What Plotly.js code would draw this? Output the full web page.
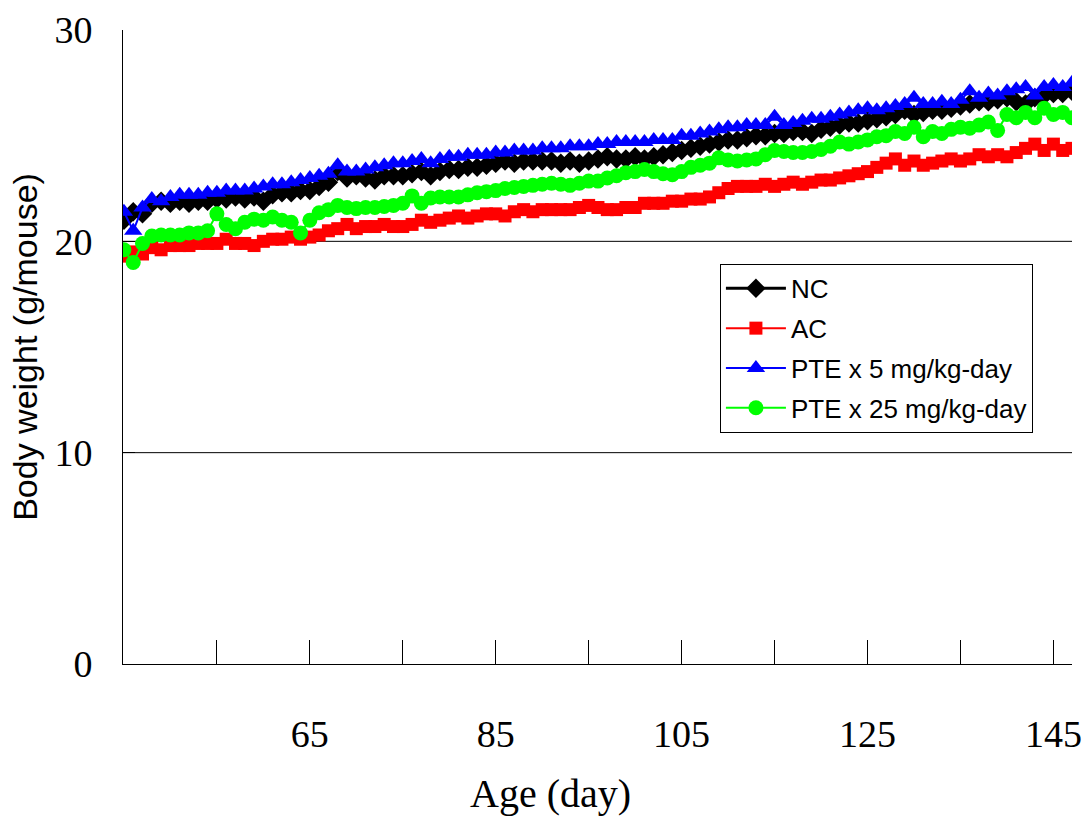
<!DOCTYPE html>
<html>
<head>
<meta charset="utf-8">
<script src="https://cdn.plot.ly/plotly-3.0.1.min.js"></script>
<style>html,body{margin:0;padding:0;background:#fff;}#chart{width:1089px;height:821px;}</style>
</head>
<body>
<div id="chart"></div>
<script>
var days = [45,46,47,48,49,50,51,52,53,54,55,56,57,58,59,60,61,62,63,64,65,66,67,68,69,70,71,72,73,74,75,76,77,78,79,80,81,82,83,84,85,86,87,88,89,90,91,92,93,94,95,96,97,98,99,100,101,102,103,104,105,106,107,108,109,110,111,112,113,114,115,116,117,118,119,120,121,122,123,124,125,126,127,128,129,130,131,132,133,134,135,136,137,138,139,140,141,142,143,144,145,146,147];

var nc = [21.0,21.4,21.3,21.8,21.9,21.8,21.9,21.8,21.9,21.9,
  22.0,22.0,22.1,22.0,22.1,21.9,22.2,22.3,22.3,22.4,
  22.4,22.6,22.8,23.3,23.0,23.1,23.0,22.9,23.1,23.1,
  23.1,23.2,23.3,23.1,23.3,23.4,23.4,23.5,23.5,23.6,
  23.7,23.8,23.7,23.8,23.8,23.8,23.8,23.7,23.8,23.7,
  23.8,23.9,24.0,23.9,23.9,24.0,23.9,24.0,24.1,24.2,
  24.3,24.4,24.5,24.6,24.7,24.8,24.8,24.9,25.0,25.0,
  25.1,25.1,25.2,25.2,25.1,25.3,25.4,25.5,25.6,25.6,
  25.7,25.8,25.9,26.0,26.2,26.0,26.1,26.2,26.2,26.3,
  26.4,26.5,26.6,26.6,26.7,26.8,26.6,26.5,26.8,26.9,
  27.0,27.0,27.1];

var ac = [19.3,19.5,19.4,19.7,19.6,19.8,19.8,19.8,19.9,19.9,
  19.9,20.1,19.9,19.9,19.8,20.0,20.1,20.1,20.2,20.1,
  20.2,20.3,20.5,20.6,20.8,20.6,20.7,20.7,20.8,20.7,
  20.7,20.8,21.0,20.9,21.0,21.1,21.2,21.1,21.2,21.3,
  21.3,21.2,21.4,21.5,21.4,21.5,21.5,21.5,21.5,21.6,
  21.7,21.6,21.5,21.5,21.6,21.6,21.8,21.8,21.8,21.9,
  21.9,22.0,22.0,22.1,22.3,22.5,22.6,22.6,22.6,22.7,
  22.6,22.7,22.8,22.7,22.8,22.9,22.9,23.0,23.1,23.2,
  23.3,23.5,23.7,23.9,23.6,23.8,23.6,23.7,23.8,23.9,
  23.8,23.9,24.1,24.0,24.1,24.0,24.2,24.4,24.6,24.3,
  24.6,24.3,24.4];

var pte5 = [21.4,20.5,21.6,22.0,21.9,22.1,22.2,22.2,22.2,22.3,
  22.3,22.4,22.4,22.4,22.5,22.6,22.7,22.7,22.8,22.9,
  23.0,23.1,23.2,23.6,23.3,23.3,23.4,23.5,23.6,23.7,
  23.7,23.8,23.9,23.7,23.9,24.0,24.0,24.1,24.1,24.1,
  24.2,24.2,24.3,24.3,24.3,24.4,24.4,24.4,24.5,24.5,
  24.5,24.6,24.6,24.7,24.7,24.7,24.7,24.8,24.8,24.8,
  25.0,25.0,25.1,25.2,25.3,25.4,25.4,25.5,25.5,25.5,
  25.9,25.5,25.6,25.7,25.8,25.8,25.9,26.0,26.1,26.2,
  26.3,26.2,26.3,26.4,26.5,26.8,26.5,26.5,26.6,26.5,
  26.7,27.1,26.8,27.0,26.9,27.1,27.2,27.3,26.9,27.3,
  27.4,27.3,27.5];

var pte25 = [19.6,19.0,19.9,20.25,20.3,20.3,20.3,20.4,20.4,20.5,
  21.3,20.8,20.6,20.9,21.05,21.0,21.15,21.0,20.9,20.4,
  21.0,21.35,21.5,21.7,21.6,21.55,21.6,21.6,21.65,21.7,
  21.8,22.15,21.8,22.05,22.1,22.1,22.1,22.2,22.3,22.35,
  22.4,22.5,22.55,22.6,22.65,22.7,22.75,22.7,22.65,22.75,
  22.85,22.85,23.0,23.1,23.25,23.3,23.4,23.3,23.2,23.15,
  23.3,23.5,23.6,23.7,23.95,23.85,23.8,23.85,23.9,24.1,
  24.3,24.25,24.2,24.2,24.25,24.35,24.5,24.7,24.6,24.7,
  24.8,24.95,25.0,25.2,25.1,25.4,24.95,25.2,25.1,25.3,
  25.4,25.35,25.5,25.65,25.25,26.0,25.85,26.1,25.85,26.3,
  26.0,26.1,25.85];

var seriesNames = ['NC', 'AC', 'PTE x 5 mg/kg-day', 'PTE x 25 mg/kg-day'];
var xTickVals = [55,65,75,85,95,105,115,125,135,145];
var xTickText = ['','65','','85','','105','','125','','145'];
var yTickVals = [0,10,20,30];
var gridVals = [10,20];

var serif = 'Liberation Serif, Times New Roman, serif';
var sans = 'Liberation Sans, Arial, sans-serif';

function mk(y, name, color, symbol, size, lw, grp) {
  return {
    x: days, y: y, name: name, type: 'scatter', mode: 'lines+markers',
    legendgroup: grp,
    line: {color: color, width: lw},
    marker: {color: color, symbol: symbol, size: size, line: {width: 0}}
  };
}

var traces = [
  mk(nc, seriesNames[0], '#000000', 'diamond', 15, 3, 'g1'),
  mk(ac, seriesNames[1], '#ff0000', 'square', 13, 2, 'g2'),
  mk(pte5, seriesNames[2], '#0000ff', 'triangle-up', 16, 2, 'g3'),
  mk(pte25, seriesNames[3], '#00ff00', 'circle', 15, 2, 'g4')
];

var shapes = gridVals.map(function (v) {
  return {type: 'line', xref: 'paper', yref: 'y', x0: 0, x1: 1, y0: v, y1: v,
          line: {color: '#000000', width: 1}, layer: 'below'};
});

var layout = {
  width: 1089, height: 821,
  margin: {l: 123, r: 17, t: 30, b: 157},
  paper_bgcolor: '#ffffff', plot_bgcolor: '#ffffff',
  showlegend: true,
  legend: {
    x: 0.629, y: 0.631, xanchor: 'left', yanchor: 'top',
    bgcolor: '#ffffff', bordercolor: '#000000', borderwidth: 1,
    font: {family: sans, size: 26, color: '#000000'},
    tracegroupgap: 3, itemwidth: 60
  },
  xaxis: {
    range: [44.9, 147], tickvals: xTickVals, ticktext: xTickText,
    ticks: 'inside', ticklen: 24, tickcolor: '#000000', tickwidth: 1,
    showline: true, linecolor: '#000000', linewidth: 1,
    showgrid: false, zeroline: false,
    ticklabelstandoff: 36,
    tickfont: {family: serif, size: 38, color: '#000000'}
  },
  yaxis: {
    range: [0, 30], tickvals: yTickVals,
    ticks: 'inside', ticklen: 12, tickcolor: '#000000', tickwidth: 1,
    showline: true, linecolor: '#000000', linewidth: 1,
    showgrid: false, zeroline: false,
    ticklabelstandoff: 22,
    tickfont: {family: serif, size: 38, color: '#000000'},
    title: {text: 'Body weight (g/mouse)', standoff: 6,
            font: {family: sans, size: 34, color: '#000000'}}
  },
  annotations: [{
    text: 'Age (day)', xref: 'paper', yref: 'paper', x: 0.451, y: -0.2035,
    xanchor: 'center', yanchor: 'middle', showarrow: false,
    font: {family: serif, size: 40, color: '#000000'}
  }],
  shapes: shapes
};

Plotly.newPlot('chart', traces, layout, {displayModeBar: false, staticPlot: true});
</script>
</body>
</html>
